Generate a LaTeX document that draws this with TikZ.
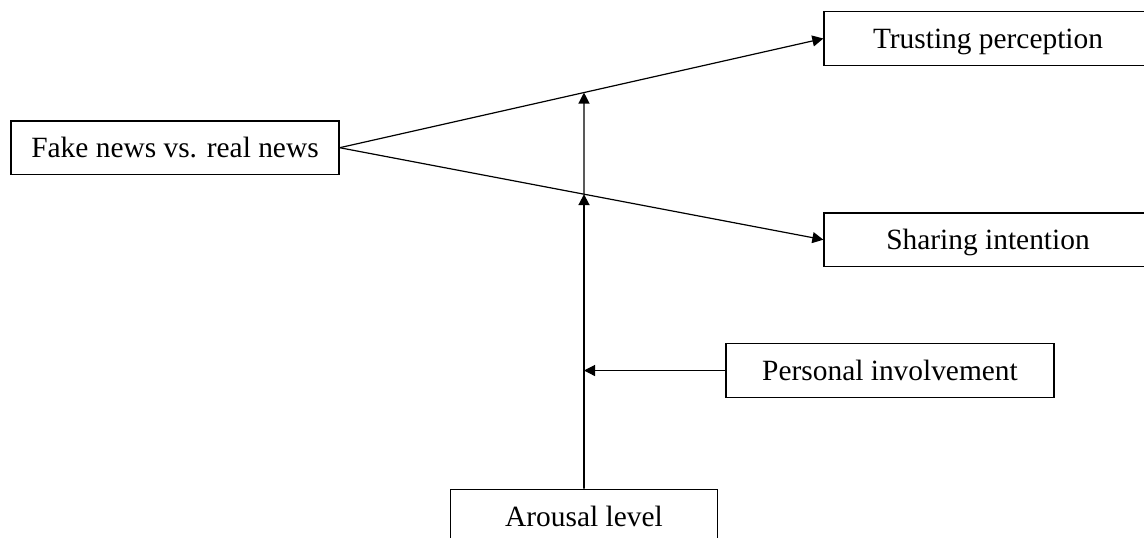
\documentclass[tikz,border=0pt]{standalone}
\usepackage{fontspec}
\setmainfont{Liberation Serif}
\usepackage{tikz}
\usetikzlibrary{arrows.meta, calc}

\begin{document}
\begin{tikzpicture}[x=0.5pt, y=-0.5pt,
  box/.style={rectangle, draw, line width=0.65pt, minimum width=164pt, minimum height=26.8pt, inner sep=0pt, text height=10pt, text depth=0pt, align=center, font=\fontsize{14.7}{17}\selectfont},
  arr/.style={-{Triangle[length=5.5pt, width=5.5pt]}, line width=0.6pt}
]
\clip (0,0) rectangle (1144,537);
\node[box] (fake) at (175,147.7) {Fake news vs. real news};
\node[box] (trust) at (988,38.5) {Trusting perception};
\node[box] (share) at (988,239.7) {Sharing intention};
\node[box] (involve) at (890,370.5) {Personal involvement};
\node[box, minimum width=133.5pt] (arousal) at (584,516) {Arousal level};
% moderation points
\coordinate (mlow) at (intersection of fake.east--share.west and arousal.north--arousal.south);
\coordinate (mup) at (intersection of fake.east--trust.west and arousal.north--arousal.south);
\coordinate (minv) at (mlow |- involve.west);
% Arrows
\draw[arr] (fake.east) -- (trust.west);
\draw[arr] (fake.east) -- (share.west);
\draw[arr, line width=0.9pt] (arousal.north) -- (mlow);
\draw[arr] (mlow) -- (mup);
\draw[arr] (involve.west) -- (minv);
\end{tikzpicture}
\end{document}
